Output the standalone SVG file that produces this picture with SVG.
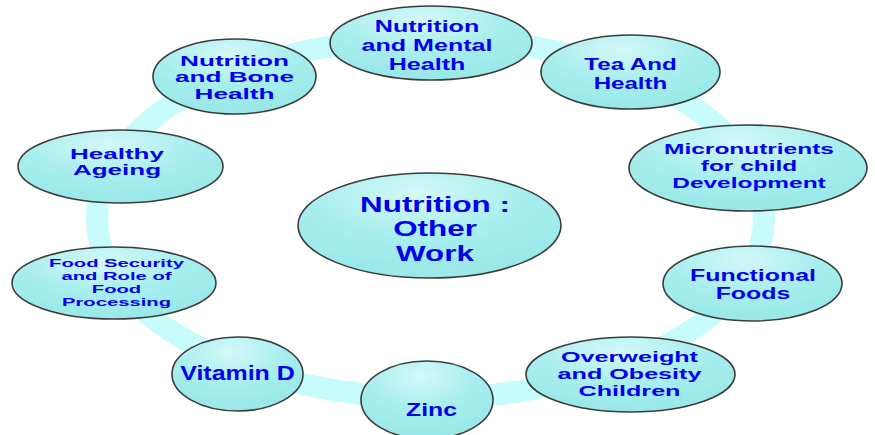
<svg xmlns="http://www.w3.org/2000/svg" width="875" height="435" viewBox="0 0 875 435">
<style>
.ring{fill:none;stroke:#c8fbfb;stroke-width:22}
.node{fill:url(#g);stroke:#3c3c3c;stroke-width:1.6}
.t{font-family:"Liberation Sans",Arial,sans-serif;font-weight:bold;fill:#0000ee;text-anchor:middle}
</style>
<defs>
<radialGradient id="g" cx="0.45" cy="0.2" r="0.75">
<stop offset="0" stop-color="#d4f8f8"/>
<stop offset="0.55" stop-color="#a8eeee"/>
<stop offset="1" stop-color="#9ae8e8"/>
</radialGradient>
</defs>
<rect width="875" height="435" fill="#ffffff"/>
<g id="connectors">
<ellipse class="ring" cx="430.5" cy="218" rx="333.5" ry="180"/>
</g>
<g id="center">
<ellipse class="node" cx="429.5" cy="225.5" rx="131.5" ry="52.5"/>
<g class="t" font-size="21.8">
<text transform="translate(435,0) scale(1.44,1)" x="0" y="212">Nutrition :</text>
<text transform="translate(435,0) scale(1.44,1)" x="0" y="236.5">Other</text>
<text transform="translate(435,0) scale(1.44,1)" x="0" y="261">Work</text>
</g>
</g>
<g id="mental">
<ellipse class="node" cx="431" cy="43" rx="101" ry="37"/>
<g class="t" font-size="16.9">
<text transform="translate(427,0) scale(1.484,1)" x="0" y="32">Nutrition</text>
<text transform="translate(427,0) scale(1.484,1)" x="0" y="51">and Mental</text>
<text transform="translate(427,0) scale(1.484,1)" x="0" y="70">Health</text>
</g>
</g>
<g id="tea">
<ellipse class="node" cx="630.5" cy="72" rx="89.5" ry="37"/>
<g class="t" font-size="16.9">
<text transform="translate(630.5,0) scale(1.425,1)" x="0" y="70">Tea And</text>
<text transform="translate(630.5,0) scale(1.425,1)" x="0" y="89">Health</text>
</g>
</g>
<g id="micro">
<ellipse class="node" cx="748" cy="168" rx="119" ry="43"/>
<g class="t" font-size="15.1">
<text transform="translate(749,0) scale(1.62,1)" x="0" y="154">Micronutrients</text>
<text transform="translate(749,0) scale(1.62,1)" x="0" y="171">for child</text>
<text transform="translate(749,0) scale(1.62,1)" x="0" y="188">Development</text>
</g>
</g>
<g id="functional">
<ellipse class="node" cx="752.5" cy="283.5" rx="89.5" ry="37.5"/>
<g class="t" font-size="16">
<text transform="translate(753,0) scale(1.557,1)" x="0" y="281">Functional</text>
<text transform="translate(753,0) scale(1.557,1)" x="0" y="299">Foods</text>
</g>
</g>
<g id="overweight">
<ellipse class="node" cx="630.5" cy="374.5" rx="104.5" ry="37.5"/>
<g class="t" font-size="15.1">
<text transform="translate(629.5,0) scale(1.666,1)" x="0" y="362">Overweight</text>
<text transform="translate(629.5,0) scale(1.666,1)" x="0" y="379">and Obesity</text>
<text transform="translate(629.5,0) scale(1.666,1)" x="0" y="396">Children</text>
</g>
</g>
<g id="zinc">
<ellipse class="node" cx="427" cy="400" rx="66" ry="39"/>
<g class="t" font-size="18.5">
<text transform="translate(431.5,0) scale(1.34,1)" x="0" y="416">Zinc</text>
</g>
</g>
<g id="vitamind">
<ellipse class="node" cx="237.5" cy="374" rx="65.5" ry="37"/>
<g class="t" font-size="19.5">
<text transform="translate(237.5,0) scale(1.28,1)" x="0" y="380.5">Vitamin D</text>
</g>
</g>
<g id="foodsecurity">
<ellipse class="node" cx="114" cy="283" rx="102" ry="36"/>
<g class="t" font-size="11.3">
<text transform="translate(116.5,0) scale(1.79,1)" x="0" y="267.5">Food Security</text>
<text transform="translate(116.5,0) scale(1.79,1)" x="0" y="280.2">and Role of</text>
<text transform="translate(116.5,0) scale(1.79,1)" x="0" y="292.9">Food</text>
<text transform="translate(116.5,0) scale(1.79,1)" x="0" y="305.6">Processing</text>
</g>
</g>
<g id="ageing">
<ellipse class="node" cx="120.5" cy="166.5" rx="102.5" ry="36.5"/>
<g class="t" font-size="15">
<text transform="translate(117,0) scale(1.735,1)" x="0" y="158.7">Healthy</text>
<text transform="translate(117,0) scale(1.735,1)" x="0" y="175.5">Ageing</text>
</g>
</g>
<g id="bone">
<ellipse class="node" cx="234.5" cy="76.5" rx="81.5" ry="37.5"/>
<g class="t" font-size="14.9">
<text transform="translate(234.5,0) scale(1.756,1)" x="0" y="65.8">Nutrition</text>
<text transform="translate(234.5,0) scale(1.756,1)" x="0" y="82.5">and Bone</text>
<text transform="translate(234.5,0) scale(1.756,1)" x="0" y="99.2">Health</text>
</g>
</g>
</svg>
